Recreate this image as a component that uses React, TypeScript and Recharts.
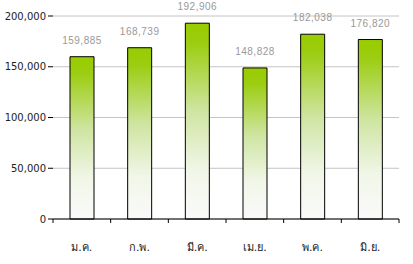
import React from 'react'
import { BarChart, Bar, XAxis, YAxis, CartesianGrid, LabelList } from 'recharts'

const months = ['ม.ค.', 'ก.พ.', 'มี.ค.', 'เม.ย.', 'พ.ค.', 'มิ.ย.']
const values = [159885, 168739, 192906, 148828, 182038, 176820]
const yTicks = [0, 50000, 100000, 150000, 200000]

const data = months.map((m, i) => ({ m, v: values[i] }))

const fmt = (n: number) => n.toLocaleString('en-US')

// category label plus a tick mark on each band edge
const MonthTick = ({ x, y, payload, index, width, visibleTicksCount }: any) => {
  const half = width / visibleTicksCount / 2
  return (
    <g>
      <line x1={x - half} x2={x - half} y1={y} y2={y + 4} stroke="#000" />
      {index === visibleTicksCount - 1 && <line x1={x + half} x2={x + half} y1={y} y2={y + 4} stroke="#000" />}
      <text x={x} y={y + 32} textAnchor="middle" fill="#222" fontSize={11} fontFamily='Tahoma, "DejaVu Sans", sans-serif'>
        {payload.value}
      </text>
    </g>
  )
}

export default function App() {
  return (
    <div style={{ position: 'absolute', left: 0, top: 0, width: 413, height: 264, background: '#fff' }}>
      <BarChart width={413} height={264} data={data} margin={{ top: 16, right: 14, left: 0, bottom: 0 }}>
        <defs>
          <linearGradient id="g" x1="0" y1="0" x2="0" y2="1">
            <stop offset="0%" stopColor="#99cc00" />
            <stop offset="10%" stopColor="#9ccd10" />
            <stop offset="45%" stopColor="#cfe5a2" />
            <stop offset="75%" stopColor="#f1f6e8" />
            <stop offset="100%" stopColor="#fafafa" />
          </linearGradient>
        </defs>
        <CartesianGrid vertical={false} stroke="#c4c4c4" />
        <XAxis dataKey="m" height={45} tickLine={false} tickSize={0} tickMargin={0} interval={0}
          axisLine={{ stroke: '#000' }} tick={<MonthTick />} />
        <YAxis width={53} domain={[0, 200000]} ticks={yTicks} tickFormatter={fmt} axisLine={false}
          tickSize={5} tickLine={{ stroke: '#000' }}
          tick={{ fill: '#222', fontSize: 10, fontFamily: '"DejaVu Sans", sans-serif' }} />
        <Bar dataKey="v" barSize={24} fill="url(#g)" stroke="#000" strokeWidth={1} isAnimationActive={false}>
          <LabelList dataKey="v" position="top" offset={13} formatter={(v: any) => fmt(v)}
            style={{ fill: '#999', fontSize: 10, fontFamily: '"Liberation Sans", sans-serif', letterSpacing: 0.5 }} />
        </Bar>
      </BarChart>
    </div>
  )
}
